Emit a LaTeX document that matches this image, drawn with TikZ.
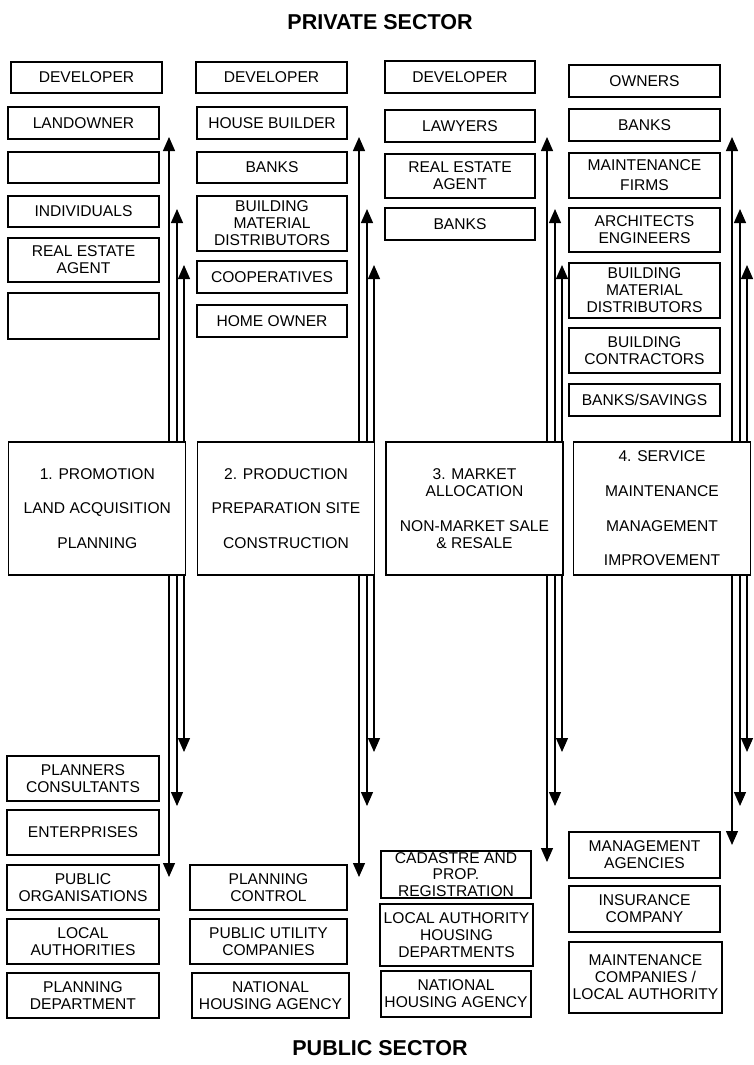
\documentclass[tikz,border=0pt]{standalone}
\usepackage{fontspec}
\setmainfont{Liberation Sans}
\usetikzlibrary{arrows.meta}
\newcommand\boxfont{\fontsize{15.6}{17}\selectfont}
\newcommand\sectorfont{\fontsize{21.5}{24}\selectfont\bfseries}

\begin{document}
\begin{tikzpicture}[x=1pt,y=-1pt,
  actor/.style 2 args={draw,line width=1.2pt,inner sep=0pt,align=center,font=\boxfont,
    minimum width=#1pt,minimum height=#2pt},
  stage/.style={draw,line width=1.2pt,inner sep=0pt,align=center,font=\boxfont,
    minimum width=177pt,minimum height=133pt},
  flow/.style={line width=1.3pt,-{Triangle[width=12pt,length=14pt]}}]
\useasboundingbox (0,0) rectangle (753,1065);

\node[font=\sectorfont] (private) at (380,22) {PRIVATE SECTOR};
\node[font=\sectorfont] (public) at (380,1048) {PUBLIC SECTOR};

% private actors
\node[actor={151}{31}] (c1dev) at (86.5,77.5) {DEVELOPER};
\node[actor={151}{32}] (c1land) at (83.5,123) {LANDOWNER};
\node[actor={151}{31}] (c1blank) at (83.5,167.5) {};
\node[actor={151}{31}] (c1indiv) at (83.5,211.5) {INDIVIDUALS};
\node[actor={151}{44}] (c1agent) at (83.5,260) {REAL ESTATE\\AGENT};
\node[actor={151}{46}] (c1blankb) at (83.5,316) {};

\node[actor={151}{31}] (c2dev) at (271.5,77.5) {DEVELOPER};
\node[actor={150}{32}] (c2build) at (272,123) {HOUSE BUILDER};
\node[actor={150}{31}] (c2banks) at (272,167.5) {BANKS};
\node[actor={150}{55}] (c2mat) at (272,223.5) {BUILDING\\MATERIAL\\DISTRIBUTORS};
\node[actor={150}{32}] (c2coop) at (272,277) {COOPERATIVES};
\node[actor={150}{32}] (c2home) at (272,321) {HOME OWNER};

\node[actor={150}{32}] (c3dev) at (460,77) {DEVELOPER};
\node[actor={150}{32}] (c3law) at (460,126) {LAWYERS};
\node[actor={150}{44}] (c3agent) at (460,176) {REAL ESTATE\\AGENT};
\node[actor={150}{32}] (c3banks) at (460,224) {BANKS};

\node[actor={151}{32}] (c4own) at (644.5,81) {OWNERS};
\node[actor={151}{32}] (c4banks) at (644.5,125) {BANKS};
\node[actor={151}{45}] (c4firms) at (644.5,175.5) {MAINTENANCE\\[3pt]FIRMS};
\node[actor={151}{44}] (c4arch) at (644.5,230) {ARCHITECTS\\ENGINEERS};
\node[actor={151}{55}] (c4mat) at (644.5,290.5) {BUILDING\\MATERIAL\\DISTRIBUTORS};
\node[actor={151}{45}] (c4contr) at (644.5,350.5) {BUILDING\\CONTRACTORS};
\node[actor={151}{32}] (c4sav) at (644.5,400) {BANKS/SAVINGS};

% stages
\node[stage] (s1) at (97.3,508.5) {1. PROMOTION\\[17.5pt]LAND ACQUISITION\\[17.5pt]PLANNING};
\node[stage] (s2) at (286,508.5) {2. PRODUCTION\\[17.5pt]PREPARATION SITE\\[17.5pt]CONSTRUCTION};
\node[stage] (s3) at (474.5,508.5) {3. MARKET\\ALLOCATION\\[18pt]NON-MARKET SALE\\\& RESALE};
\node[stage] (s4) at (662,508.5) {4. SERVICE\\[18pt]MAINTENANCE\\[18pt]MANAGEMENT\\[17pt]IMPROVEMENT};

% public actors
\node[actor={152}{45}] (b1plan) at (83,778.5) {PLANNERS\\CONSULTANTS};
\node[actor={152}{45}] (b1ent) at (83,832.5) {ENTERPRISES};
\node[actor={152}{45}] (b1pub) at (83,887.5) {PUBLIC\\ORGANISATIONS};
\node[actor={152}{45}] (b1local) at (83,941.5) {LOCAL\\AUTHORITIES};
\node[actor={152}{45}] (b1dept) at (83,995.5) {PLANNING\\DEPARTMENT};

\node[actor={157}{45}] (b2ctrl) at (268.5,887.5) {PLANNING\\CONTROL};
\node[actor={157}{45}] (b2util) at (268.5,941.5) {PUBLIC UTILITY\\COMPANIES};
\node[actor={157}{45}] (b2nat) at (270.5,995.5) {NATIONAL\\HOUSING AGENCY};

\node[actor={150}{47}] (b3cad) at (456,874.5) {CADASTRE AND\\[-0.5pt]PROP.\\[-0.5pt]REGISTRATION};
\node[actor={153}{62}] (b3lah) at (456.5,935) {LOCAL AUTHORITY\\HOUSING\\DEPARTMENTS};
\node[actor={150}{46}] (b3nat) at (456,994) {NATIONAL\\HOUSING AGENCY};

\node[actor={151}{46}] (b4man) at (644.5,855) {MANAGEMENT\\AGENCIES};
\node[actor={151}{46}] (b4ins) at (644.5,909) {INSURANCE\\COMPANY};
\node[actor={153}{71}] (b4mnt) at (645.5,977.5) {MAINTENANCE\\COMPANIES /\\LOCAL AUTHORITY};

% arrow levels
\coordinate (top1) at (0,137);
\coordinate (top2) at (0,209);
\coordinate (top3) at (0,265);
\coordinate (lowA) at (0,877);
\coordinate (lowB) at (0,862);
\coordinate (lowC) at (0,845);
\coordinate (bot2) at (0,806);
\coordinate (bot3) at (0,752);

\foreach \s/\xa/\xb/\xc/\d in {s1/169/177/184/lowA, s2/359/367/374/lowA, s3/547/555/562/lowB, s4/732/740/747/lowC} {
  \draw[flow] (\s.north -| \xa,0) -- (top1 -| \xa,0);
  \draw[flow] (\s.north -| \xb,0) -- (top2 -| \xb,0);
  \draw[flow] (\s.north -| \xc,0) -- (top3 -| \xc,0);
  \draw[flow] (\s.south -| \xa,0) -- (\d -| \xa,0);
  \draw[flow] (\s.south -| \xb,0) -- (bot2 -| \xb,0);
  \draw[flow] (\s.south -| \xc,0) -- (bot3 -| \xc,0);
}
\end{tikzpicture}
\end{document}
